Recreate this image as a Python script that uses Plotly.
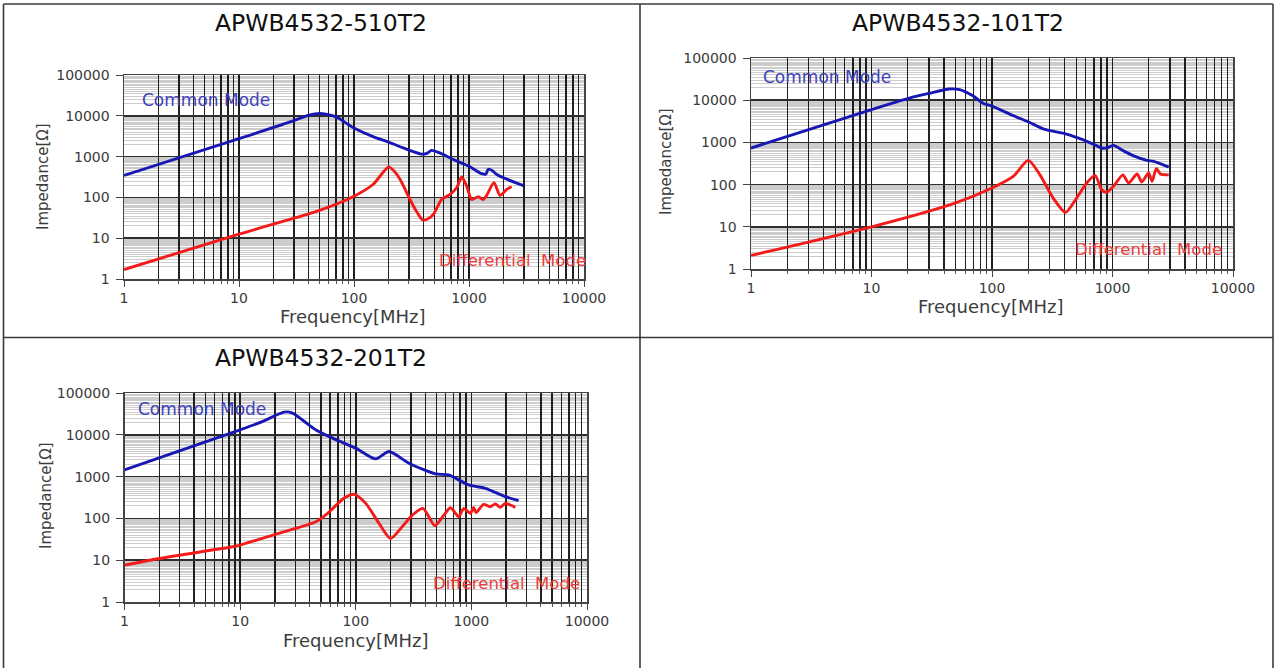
import plotly.graph_objects as go

# ---------------- data ----------------
titles = ["APWB4532-510T2", "APWB4532-101T2", "APWB4532-201T2"]

x_tickvals = [1, 10, 100, 1000, 10000]
x_ticktext = ["1", "10", "100", "1000", "10000"]
y_tickvals = [1, 10, 100, 1000, 10000, 100000]
y_ticktext = ["1", "10", "100", "1000", "10000", "100000"]
y_minor_steps = [2, 2.5, 3, 3.5, 4, 4.5, 5, 5.5, 6, 6.5, 7, 7.5, 8, 8.5, 9, 9.5]

# APWB4532-510T2
cm1_freq = [1, 10, 30, 40, 48, 57, 70, 100, 150, 192, 269, 387, 430, 473, 550, 731,
            1000, 1290, 1400, 1470, 1600, 1740, 2200, 2970]
cm1_imp = [345, 2750, 7600, 10300, 11300, 11000, 9400, 5000, 3000, 2370, 1630, 1150,
           1200, 1420, 1250, 850, 580, 380, 370, 490, 450, 365, 270, 195]
dm1_freq = [1, 10, 50, 100, 147, 175, 200, 225, 252, 307, 350, 395, 440, 490, 578,
            684, 781, 863, 955, 1054, 1205, 1320, 1410, 1650, 1860, 2130, 2350]
dm1_imp = [1.7, 12.6, 48, 107, 210, 380, 560, 430, 275, 89, 45, 28, 30, 38, 89,
           118, 172, 316, 190, 89, 104, 89, 107, 230, 112, 157, 182]

# APWB4532-101T2
cm2_freq = [1, 10, 20.6, 30, 44, 54, 70, 84, 100, 150, 204, 266, 415, 573, 700, 815,
            900, 1020, 1235, 1500, 1930, 2200, 2930]
cm2_imp = [735, 6000, 11200, 14500, 18400, 17800, 12500, 8500, 7200, 4300, 3000, 2100,
           1580, 1150, 900, 735, 740, 850, 630, 480, 375, 355, 260]
dm2_freq = [1, 10, 50, 100, 150, 200, 250, 322, 408, 504, 611, 717, 815, 895, 1020,
            1220, 1360, 1600, 1750, 1995, 2130, 2310, 2500, 2930]
dm2_imp = [2.1, 10, 37, 83, 156, 374, 170, 48, 22, 48, 109, 165, 75, 66, 91,
           170, 109, 178, 115, 188, 119, 240, 178, 170]

# APWB4532-201T2
cm3_freq = [1, 10, 15.7, 24, 28.4, 35, 45, 63, 100, 149, 194, 288, 490, 635, 948,
            1320, 1963, 2560]
cm3_imp = [1450, 13200, 20900, 35000, 33100, 22000, 13200, 8300, 4790, 2650, 3980,
           2090, 1160, 1100, 630, 525, 331, 265]
dm3_freq = [1, 2, 8.6, 10, 20.4, 45, 57, 80, 97, 122, 159, 200, 252, 309, 381, 483,
            578, 660, 777, 859, 980, 1047, 1096, 1277, 1450, 1610, 1780, 1963, 2170, 2400]
dm3_imp = [7.6, 11, 21, 23, 42, 83, 132, 310, 377, 229, 76, 33, 63, 120, 174, 67,
           120, 180, 110, 174, 132, 184, 137, 217, 190, 221, 184, 229, 209, 184]

series = [(cm1_freq, cm1_imp, dm1_freq, dm1_imp),
          (cm2_freq, cm2_imp, dm2_freq, dm2_imp),
          (cm3_freq, cm3_imp, dm3_freq, dm3_imp)]

# ---------------- layout helpers ----------------
W, H = 1277, 668
def px(x):
    return x / W
def py(y):
    return 1 - y / H

# plot areas in pixels: (left, right, top, bottom)
areas = [(124, 584, 75, 279), (751, 1233, 58, 269), (124.5, 587, 393, 602)]
title_pos = [(321, 23), (958, 23), (321, 358)]
ylabel_pos = [(43, 177), (666, 162), (46, 496)]
xlabel_pos = [(353, 316), (991, 306), (356, 640)]
cm_label_pos = [(206, 100), (827, 77), (202, 409)]
dm_label_pos = [(512, 260), (1148, 249), (506, 583)]

BLUE = "#1717b4"
RED = "#f31a1a"
FONT = "DejaVu Sans"

y_minor_vals = [s * 10 ** k for k in range(0, 5) for s in y_minor_steps]

fig = go.Figure()
layout = dict(template="none", width=W, height=H, autosize=False,
              margin=dict(l=0, r=0, t=0, b=0, pad=0, autoexpand=False),
              paper_bgcolor="white", plot_bgcolor="white",
              showlegend=False, annotations=[], shapes=[])

for i, (cf, ci, df, di) in enumerate(series):
    n = "" if i == 0 else str(i + 1)
    xa, ya = "x" + n, "y" + n
    fig.add_trace(go.Scatter(x=cf, y=ci, mode="lines", xaxis=xa, yaxis=ya,
                             line=dict(color=BLUE, width=2.9, shape="spline", smoothing=0.7),
                             hoverinfo="skip"))
    fig.add_trace(go.Scatter(x=df, y=di, mode="lines", xaxis=xa, yaxis=ya,
                             line=dict(color=RED, width=2.9, shape="spline", smoothing=0.7),
                             hoverinfo="skip"))
    l, r, t, b = areas[i]
    layout["xaxis" + n] = dict(
        type="log", range=[0, 4], domain=[px(l), px(r)], anchor=ya, automargin=False,
        tickmode="array", tickvals=x_tickvals, ticktext=x_ticktext,
        ticks="outside", ticklen=6, tickcolor="#444", tickwidth=1,
        showgrid=True, gridcolor="#1e1e1e", gridwidth=1.6,
        minor=dict(dtick="D1", showgrid=True, gridcolor="#222222", gridwidth=1.4,
                   ticks="outside", ticklen=3, tickcolor="#555"),
        showline=True, linecolor="#444", linewidth=1.5, mirror=True,
        tickfont=dict(family=FONT, size=14, color="#3a3a3a"),
        zeroline=False, fixedrange=True)
    layout["yaxis" + n] = dict(
        type="log", range=[0, 5], domain=[py(b), py(t)], anchor=xa, automargin=False,
        tickmode="array", tickvals=y_tickvals, ticktext=y_ticktext,
        ticks="outside", ticklen=7, tickcolor="#444", tickwidth=1,
        showgrid=True, gridcolor="#2e2e2e", gridwidth=1.6,
        minor=dict(tickmode="array", tickvals=y_minor_vals, showgrid=True,
                   gridcolor="rgba(0,0,0,0.2)", gridwidth=1, ticks=""),
        showline=True, linecolor="#444", linewidth=1.5, mirror=True,
        tickfont=dict(family=FONT, size=14, color="#3a3a3a"),
        ticklabelstandoff=3,
        zeroline=False, fixedrange=True)

    def ann(text, pos, size, color, angle=0):
        layout["annotations"].append(dict(
            text=text, x=px(pos[0]), y=py(pos[1]), xref="paper", yref="paper",
            xanchor="center", yanchor="middle", showarrow=False, textangle=angle,
            font=dict(family=FONT, size=size, color=color)))

    ann(titles[i], title_pos[i], 23.5, "#111111")
    ann("Impedance[Ω]", ylabel_pos[i], 15, "#3c3c3c", -90)
    ann("Frequency[MHz]", xlabel_pos[i], 18, "#3c3c3c")
    ann("Common Mode", cm_label_pos[i], 17, "#4141b8")
    ann("Differential  Mode", dm_label_pos[i], 16.5, "#ee3c3c")

# table borders
border = dict(type="line", xref="paper", yref="paper",
              line=dict(color="#3a3a3a", width=1.6))
for (x0, y0, x1, y1) in [(3.5, 4, 1273, 4), (3.5, 4, 3.5, 668), (1273, 4, 1273, 668),
                         (640, 4, 640, 668), (3.5, 337.5, 1273, 337.5)]:
    s = dict(border)
    s.update(x0=px(x0), y0=py(y0), x1=px(x1), y1=py(y1))
    layout["shapes"].append(s)

fig.update_layout(**layout)
fig.write_html(
    "out.html",
    config={"displayModeBar": False, "staticPlot": True},
    post_script="document.body.style.margin='0';document.body.style.padding='0';"
                "document.body.style.overflow='hidden';"
                "document.documentElement.style.overflow='hidden';")
